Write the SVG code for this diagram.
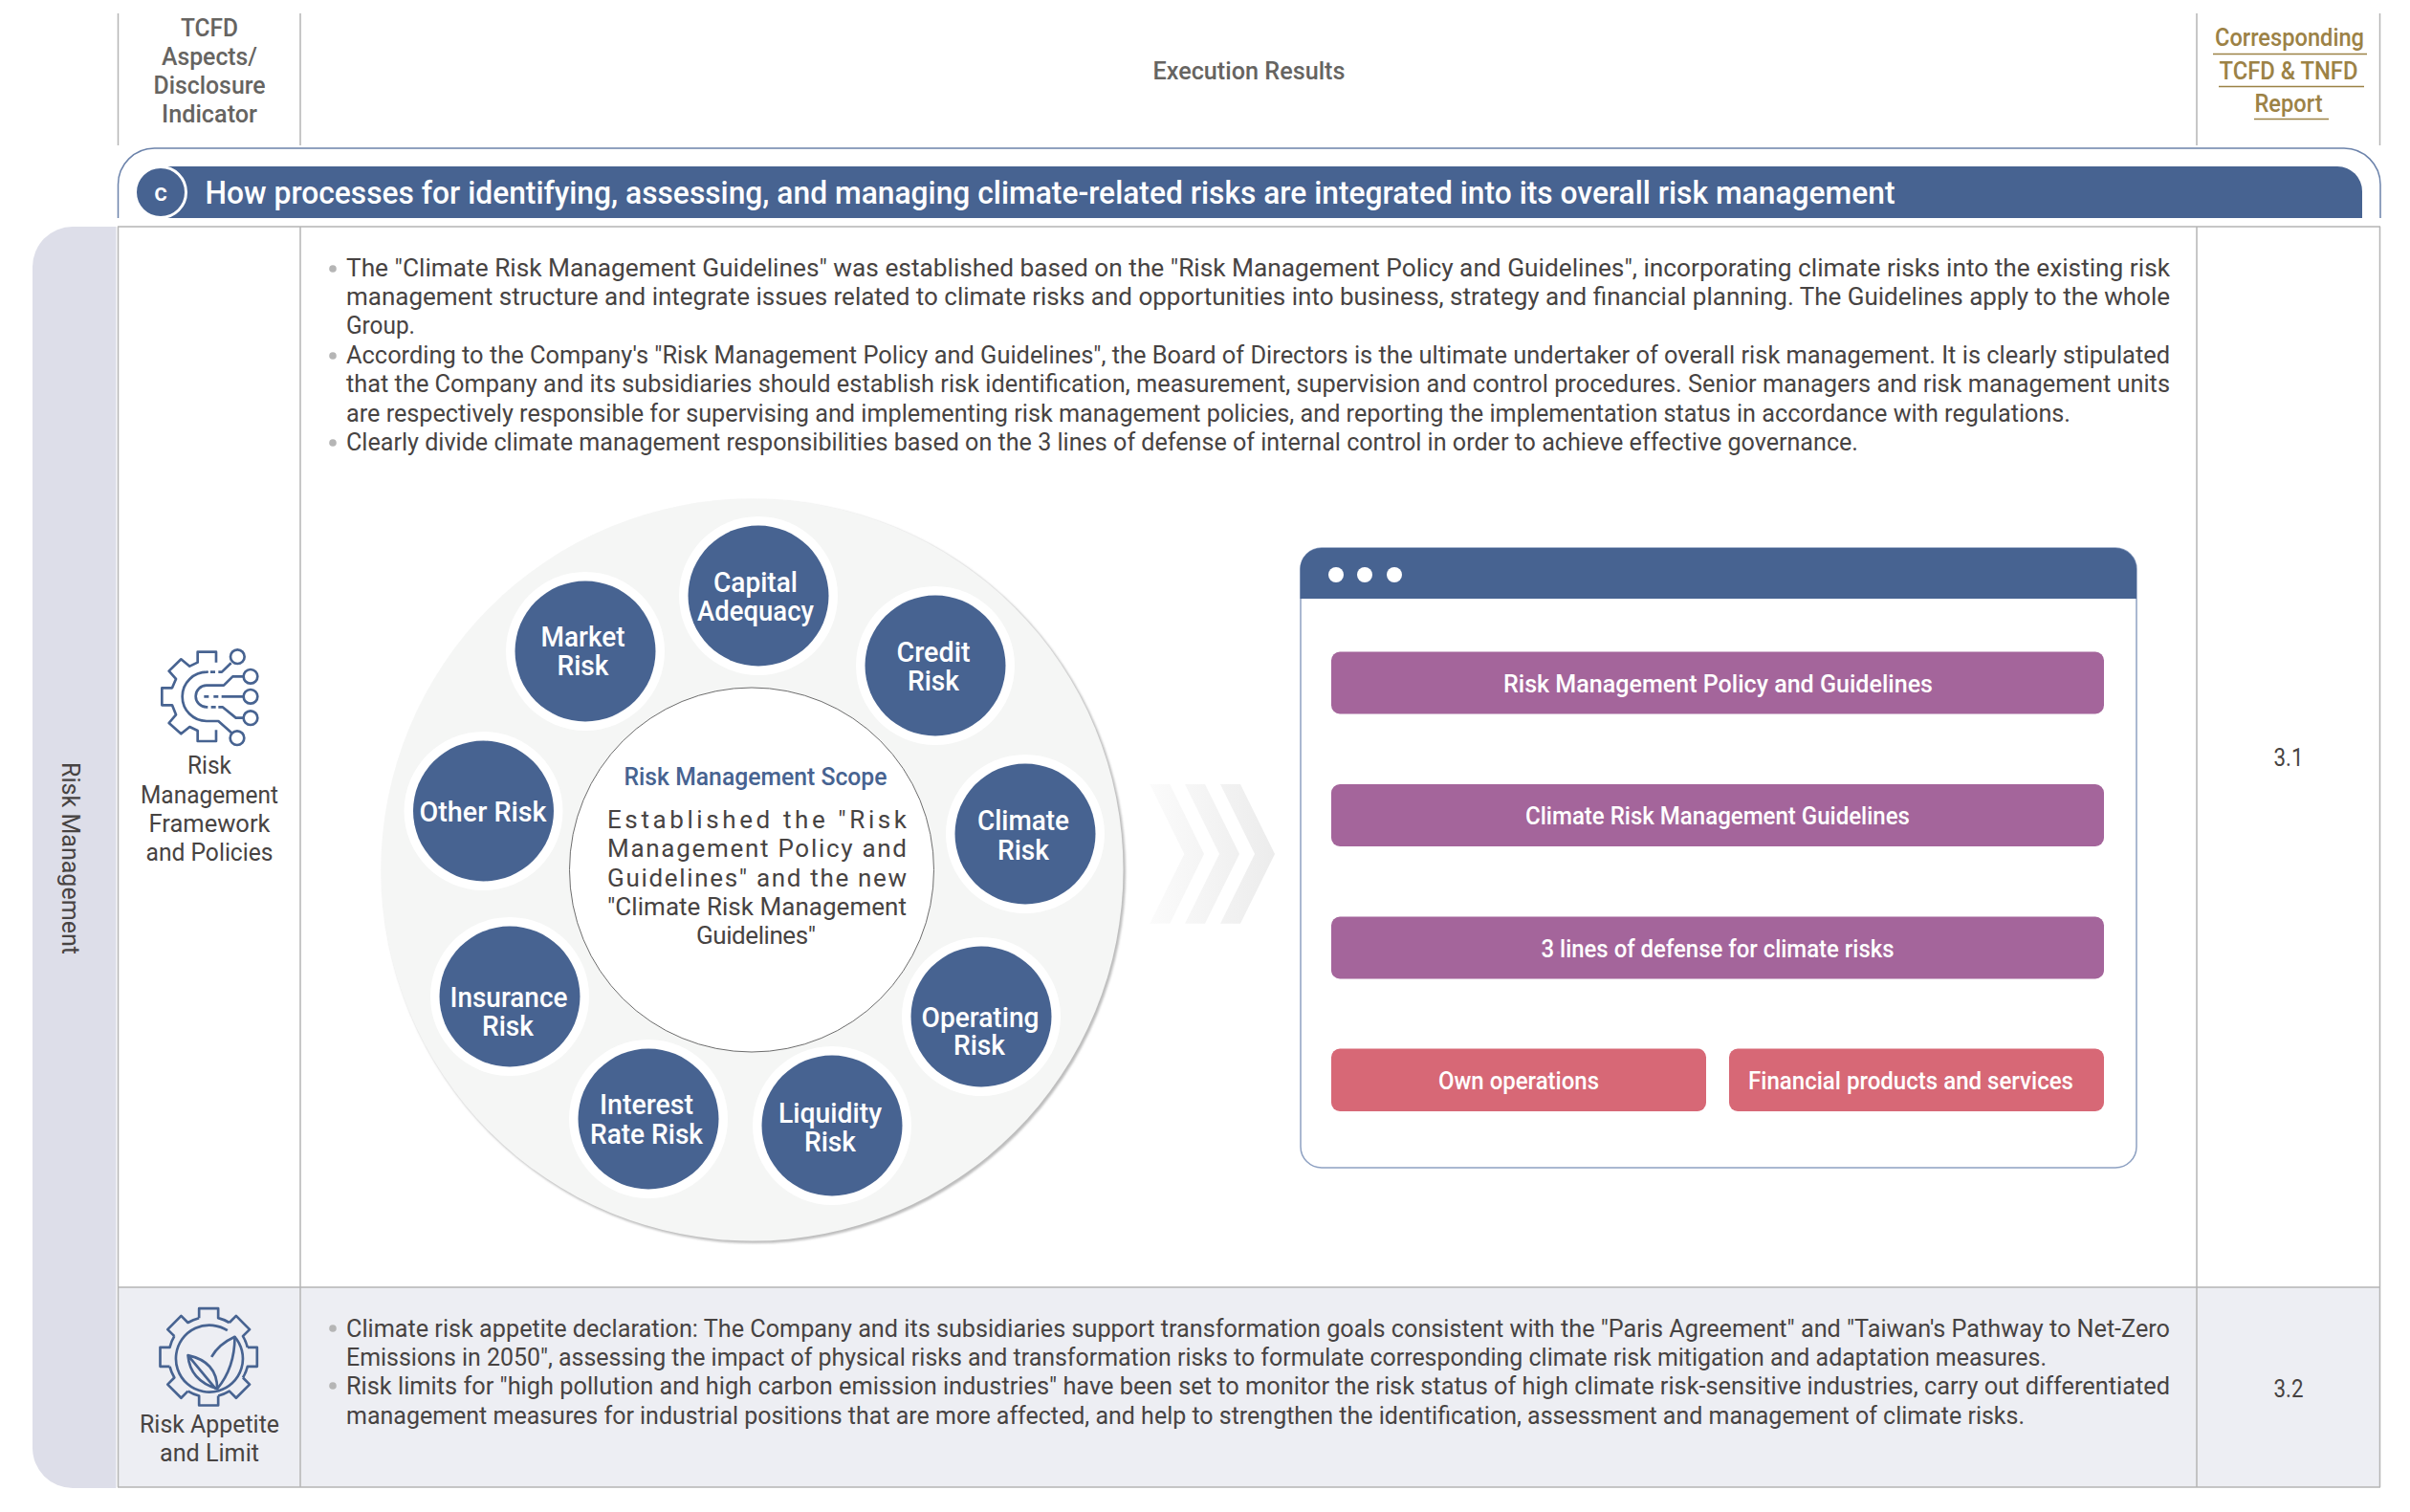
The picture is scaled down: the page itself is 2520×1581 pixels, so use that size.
<svg xmlns="http://www.w3.org/2000/svg" xmlns:xlink="http://www.w3.org/1999/xlink" width="2520" height="1581" viewBox="0 0 2520 1581">
<style>
text{font-family:"Roboto","Liberation Sans",sans-serif;}
.b{font-size:26px;fill:#474342;}
.l{font-size:26px;fill:#474342;text-anchor:middle;}
.h{font-size:26px;fill:#666461;text-anchor:middle;font-weight:500;}
.g{font-size:26px;fill:#9c8246;text-anchor:middle;font-weight:500;}
.c{font-size:29px;fill:#fff;text-anchor:middle;font-weight:500;}
.t{font-size:26px;fill:#fff;text-anchor:middle;font-weight:500;}
.s{font-size:26px;fill:#474342;}
.rule{stroke:#b5b5b5;stroke-width:1.5;fill:none;}
.dot{fill:#b5b5b5;}
.risk{fill:#476391;}
.halo{fill:#fff;}
.ic{fill:none;stroke:#476391;stroke-width:8;stroke-linejoin:round;}
.pu{fill:#a4659b;}
.pi{fill:#d76876;}
</style>
<defs>
<linearGradient id="chev" gradientUnits="userSpaceOnUse" x1="1202" y1="0" x2="1333" y2="0"><stop offset="0" stop-color="#fbfbfb"/><stop offset="1" stop-color="#ececec"/></linearGradient>
<filter id="soft" x="-5%" y="-5%" width="110%" height="110%"><feGaussianBlur stdDeviation="1"/></filter>
<path id="tooth" d="M-30 -122V-152H30V-122A125 125 0 0 1 65 -107.5"/>
</defs>
<rect width="2520" height="1581" fill="#fff"/>

<g id="header">
<line class="rule" x1="123.5" y1="14" x2="123.5" y2="152"/>
<line class="rule" x1="314" y1="14" x2="314" y2="152"/>
<line class="rule" x1="2297" y1="14" x2="2297" y2="152"/>
<line class="rule" x1="2488.5" y1="14" x2="2488.5" y2="152"/>
<text class="h" x="219" y="38" textLength="60" lengthAdjust="spacingAndGlyphs">TCFD</text>
<text class="h" x="219" y="68" textLength="100" lengthAdjust="spacingAndGlyphs">Aspects/</text>
<text class="h" x="219" y="98" textLength="117" lengthAdjust="spacingAndGlyphs">Disclosure</text>
<text class="h" x="219" y="128" textLength="100" lengthAdjust="spacingAndGlyphs">Indicator</text>
<text class="h" x="1306" y="83" textLength="201" lengthAdjust="spacingAndGlyphs">Execution Results</text>
<text class="g" x="2394" y="48" textLength="156" lengthAdjust="spacingAndGlyphs">Corresponding</text>
<text class="g" x="2393" y="82.500" textLength="145" lengthAdjust="spacingAndGlyphs">TCFD &amp; TNFD</text>
<text class="g" x="2393" y="116.500" textLength="71" lengthAdjust="spacingAndGlyphs">Report</text>
<path d="M2314 56.500H2475M2320 90.500H2472M2357 124.500H2435" stroke="#9c8246" stroke-width="1.500" fill="none"/>
</g>

<g id="section-title">
<path d="M123.500 228V193A38 38 0 0 1 161.500 155H2451A38 38 0 0 1 2489 193V228" fill="none" stroke="#6c83ab" stroke-width="1.500"/>
<path d="M168 174H2444A26 26 0 0 1 2470 200V228H168Z" class="risk"/>
<circle cx="168" cy="201" r="26.500" class="risk" stroke="#fff" stroke-width="3"/>
<text x="168" y="210" font-size="26" fill="#fff" text-anchor="middle" font-weight="500">c</text>
<text x="214.500" y="213" font-size="33" fill="#fff" font-weight="500" textLength="1767" lengthAdjust="spacingAndGlyphs">How processes for identifying, assessing, and managing climate-related risks are integrated into its overall risk management</text>
</g>

<g id="table">
<rect x="123" y="1346" width="2365" height="209" fill="#edeef3"/>
<path class="rule" d="M123 237H2489M123 1346H2489M123 1555H2489M123.500 237V1555M314 237V1555M2297 237V1555M2488.500 237V1555"/>
</g>

<g id="aspect-strip">
<path d="M121.500 237V1556H76A42 42 0 0 1 34 1514V279A42 42 0 0 1 76 237Z" fill="#dddee9"/>
<text transform="translate(64.500 897.500) rotate(90)" class="l" textLength="201" lengthAdjust="spacingAndGlyphs">Risk Management</text>
</g>

<g id="framework-label">
<g transform="translate(130 650) scale(.3333)">
<path class="ic" d="M288 128V95H230V128L205 140L178 118L140 155L162 180L150 208H118V262H150L162 292L140 318L178 352L205 330L230 342V375H288V340"/>
<path class="ic" d="M258 158H260A77 77 0 0 0 258 312H295L338 350M270 158H285M295 158H306L335 130"/>
<circle class="ic" cx="355" cy="110" r="22"/>
<circle class="ic" cx="354" cy="365" r="22"/>
<path class="ic" d="M374 172H340L312 200H258A34 34 0 0 0 258 268H262M272 268H287M295 268H308L350 302H374"/>
<path class="ic" d="M250 235H265M280 235H295M305 235H374"/>
<circle class="ic" cx="396" cy="172" r="22"/>
<circle class="ic" cx="396" cy="235" r="22"/>
<circle class="ic" cx="396" cy="302" r="22"/>
</g>
<text class="l" x="219" y="809" textLength="46" lengthAdjust="spacingAndGlyphs">Risk</text>
<text class="l" x="219" y="840" textLength="144" lengthAdjust="spacingAndGlyphs">Management</text>
<text class="l" x="219" y="870" textLength="127" lengthAdjust="spacingAndGlyphs">Framework</text>
<text class="l" x="219" y="900" textLength="133" lengthAdjust="spacingAndGlyphs">and Policies</text>
</g>

<g id="appetite-label">
<g transform="translate(130.500 1340.500) scale(.3333)">
<g transform="translate(263 235)" class="ic">
<use xlink:href="#tooth"/><use xlink:href="#tooth" transform="rotate(45)"/><use xlink:href="#tooth" transform="rotate(90)"/><use xlink:href="#tooth" transform="rotate(135)"/><use xlink:href="#tooth" transform="rotate(180)"/><use xlink:href="#tooth" transform="rotate(225)"/><use xlink:href="#tooth" transform="rotate(270)"/><use xlink:href="#tooth" transform="rotate(315)"/>
</g>
<path class="ic" d="M322 152A105 105 0 1 0 345 172"/>
<path class="ic" d="M272 235Q295 195 345 172Q345 270 290 335"/>
<path class="ic" d="M198 230Q290 250 290 335Q205 310 198 230L285 335"/>
</g>
<text class="l" x="219" y="1498" textLength="146" lengthAdjust="spacingAndGlyphs">Risk Appetite</text>
<text class="l" x="219" y="1528" textLength="104" lengthAdjust="spacingAndGlyphs">and Limit</text>
</g>

<g id="policy-text">
<circle class="dot" cx="348" cy="281" r="3.800"/><circle class="dot" cx="348" cy="372" r="3.800"/><circle class="dot" cx="348" cy="463" r="3.800"/>
<text class="b" x="362" y="289" textLength="1907" lengthAdjust="spacingAndGlyphs">The "Climate Risk Management Guidelines" was established based on the "Risk Management Policy and Guidelines", incorporating climate risks into the existing risk</text>
<text class="b" x="362" y="319" textLength="1907" lengthAdjust="spacingAndGlyphs">management structure and integrate issues related to climate risks and opportunities into business, strategy and financial planning. The Guidelines apply to the whole</text>
<text class="b" x="362" y="349" textLength="72" lengthAdjust="spacingAndGlyphs">Group.</text>
<text class="b" x="362" y="380" textLength="1907" lengthAdjust="spacingAndGlyphs">According to the Company's "Risk Management Policy and Guidelines", the Board of Directors is the ultimate undertaker of overall risk management. It is clearly stipulated</text>
<text class="b" x="362" y="410" textLength="1907" lengthAdjust="spacingAndGlyphs">that the Company and its subsidiaries should establish risk identification, measurement, supervision and control procedures. Senior managers and risk management units</text>
<text class="b" x="362" y="441" textLength="1803" lengthAdjust="spacingAndGlyphs">are respectively responsible for supervising and implementing risk management policies, and reporting the implementation status in accordance with regulations.</text>
<text class="b" x="362" y="471" textLength="1581" lengthAdjust="spacingAndGlyphs">Clearly divide climate management responsibilities based on the 3 lines of defense of internal control in order to achieve effective governance.</text>
</g>

<g id="risk-wheel">
<circle cx="788.500" cy="911.500" r="388.500" fill="#bdbdbd" filter="url(#soft)"/>
<circle cx="786.500" cy="909.500" r="388" fill="#f5f6f5"/>
<circle cx="786" cy="909.500" r="190.500" fill="#fff" stroke="#6d6d6d" stroke-width="1"/>
<text x="790" y="821" font-size="26" fill="#476391" text-anchor="middle" font-weight="500" textLength="275" lengthAdjust="spacingAndGlyphs">Risk Management Scope</text>
<text class="s" x="635" y="866" textLength="313">Established the "Risk</text>
<text class="s" x="635" y="896" textLength="313">Management Policy and</text>
<text class="s" x="635" y="927" textLength="313">Guidelines" and the new</text>
<text class="s" x="635" y="957" textLength="313">"Climate Risk Management</text>
<text class="s" x="728" y="987" textLength="125">Guidelines"</text>
</g>

<g id="node-capital"><circle class="halo" cx="793" cy="623" r="83"/><circle class="risk" cx="793" cy="623" r="73.500"/><text class="c" x="790" y="619" textLength="88" lengthAdjust="spacingAndGlyphs">Capital</text><text class="c" x="790" y="649" textLength="122" lengthAdjust="spacingAndGlyphs">Adequacy</text></g>
<g id="node-market"><circle class="halo" cx="612" cy="681" r="83"/><circle class="risk" cx="612" cy="681" r="73.500"/><text class="c" x="609.500" y="676" textLength="88" lengthAdjust="spacingAndGlyphs">Market</text><text class="c" x="609.500" y="706" textLength="54" lengthAdjust="spacingAndGlyphs">Risk</text></g>
<g id="node-credit"><circle class="halo" cx="978" cy="696" r="83"/><circle class="risk" cx="978" cy="696" r="73.500"/><text class="c" x="976" y="692" textLength="77" lengthAdjust="spacingAndGlyphs">Credit</text><text class="c" x="976" y="722" textLength="54" lengthAdjust="spacingAndGlyphs">Risk</text></g>
<g id="node-climate"><circle class="halo" cx="1072" cy="872" r="83"/><circle class="risk" cx="1072" cy="872" r="73.500"/><text class="c" x="1070" y="868" textLength="96" lengthAdjust="spacingAndGlyphs">Climate</text><text class="c" x="1070" y="899" textLength="54" lengthAdjust="spacingAndGlyphs">Risk</text></g>
<g id="node-operating"><circle class="halo" cx="1026" cy="1063" r="83"/><circle class="risk" cx="1026" cy="1063" r="73.500"/><text class="c" x="1025" y="1074" textLength="123" lengthAdjust="spacingAndGlyphs">Operating</text><text class="c" x="1024" y="1103" textLength="54" lengthAdjust="spacingAndGlyphs">Risk</text></g>
<g id="node-liquidity"><circle class="halo" cx="870" cy="1177" r="83"/><circle class="risk" cx="870" cy="1177" r="73.500"/><text class="c" x="868" y="1174" textLength="108" lengthAdjust="spacingAndGlyphs">Liquidity</text><text class="c" x="868" y="1204" textLength="54" lengthAdjust="spacingAndGlyphs">Risk</text></g>
<g id="node-interest"><circle class="halo" cx="678" cy="1170" r="83"/><circle class="risk" cx="678" cy="1170" r="73.500"/><text class="c" x="676" y="1165" textLength="98" lengthAdjust="spacingAndGlyphs">Interest</text><text class="c" x="676" y="1196" textLength="118" lengthAdjust="spacingAndGlyphs">Rate Risk</text></g>
<g id="node-insurance"><circle class="halo" cx="533" cy="1042" r="83"/><circle class="risk" cx="533" cy="1042" r="73.500"/><text class="c" x="532" y="1053" textLength="123" lengthAdjust="spacingAndGlyphs">Insurance</text><text class="c" x="531" y="1083" textLength="54" lengthAdjust="spacingAndGlyphs">Risk</text></g>
<g id="node-other"><circle class="halo" cx="505.500" cy="848" r="83"/><circle class="risk" cx="505.500" cy="848" r="73.500"/><text class="c" x="505" y="859" textLength="133" lengthAdjust="spacingAndGlyphs">Other Risk</text></g>

<g id="chevrons" fill="url(#chev)">
<polygon points="1202.300,820 1223.300,820 1259,893 1223.300,965.700 1202.300,965.700 1238.300,893"/>
<polygon points="1239,820 1260,820 1296,893 1260,965.700 1239,965.700 1275,893"/>
<polygon points="1276,820 1297,820 1333,893 1297,965.700 1276,965.700 1312,893"/>
</g>

<g id="panel">
<rect x="1360" y="573" width="874" height="648" rx="22" fill="#fff" stroke="#8ea1c2" stroke-width="1.500"/>
<path d="M1359.500 626V595A22 22 0 0 1 1381.500 573H2212A22 22 0 0 1 2234 595V626Z" class="risk"/>
<circle cx="1397" cy="601" r="8" fill="#fff"/><circle cx="1427" cy="601" r="8" fill="#fff"/><circle cx="1458" cy="601" r="8" fill="#fff"/>
</g>
<g id="box-policy"><rect class="pu" x="1392" y="681.500" width="808" height="65" rx="9"/><text class="t" x="1796.500" y="724" textLength="449" lengthAdjust="spacingAndGlyphs">Risk Management Policy and Guidelines</text></g>
<g id="box-climate"><rect class="pu" x="1392" y="820" width="808" height="65" rx="9"/><text class="t" x="1796" y="862" textLength="402" lengthAdjust="spacingAndGlyphs">Climate Risk Management Guidelines</text></g>
<g id="box-lines"><rect class="pu" x="1392" y="958.500" width="808" height="65" rx="9"/><text class="t" x="1796" y="1001" textLength="369" lengthAdjust="spacingAndGlyphs">3 lines of defense for climate risks</text></g>
<g id="box-own"><rect class="pi" x="1392" y="1096.500" width="392" height="65.500" rx="9"/><text class="t" x="1588" y="1139" textLength="168" lengthAdjust="spacingAndGlyphs">Own operations</text></g>
<g id="box-financial"><rect class="pi" x="1808" y="1096.500" width="392" height="65.500" rx="9"/><text class="t" x="1998" y="1139" textLength="340" lengthAdjust="spacingAndGlyphs">Financial products and services</text></g>

<g id="appetite-text">
<circle class="dot" cx="348" cy="1389" r="3.800"/><circle class="dot" cx="348" cy="1449" r="3.800"/>
<text class="b" x="362" y="1398" textLength="1907" lengthAdjust="spacingAndGlyphs">Climate risk appetite declaration: The Company and its subsidiaries support transformation goals consistent with the "Paris Agreement" and "Taiwan's Pathway to Net-Zero</text>
<text class="b" x="362" y="1428" textLength="1778" lengthAdjust="spacingAndGlyphs">Emissions in 2050", assessing the impact of physical risks and transformation risks to formulate corresponding climate risk mitigation and adaptation measures.</text>
<text class="b" x="362" y="1458" textLength="1907" lengthAdjust="spacingAndGlyphs">Risk limits for "high pollution and high carbon emission industries" have been set to monitor the risk status of high climate risk-sensitive industries, carry out differentiated</text>
<text class="b" x="362" y="1489" textLength="1755" lengthAdjust="spacingAndGlyphs">management measures for industrial positions that are more affected, and help to strengthen the identification, assessment and management of climate risks.</text>
</g>

<g id="refs">
<text class="l" x="2393" y="801" textLength="31" lengthAdjust="spacingAndGlyphs">3.1</text>
<text class="l" x="2393" y="1461" textLength="31" lengthAdjust="spacingAndGlyphs">3.2</text>
</g>
</svg>
